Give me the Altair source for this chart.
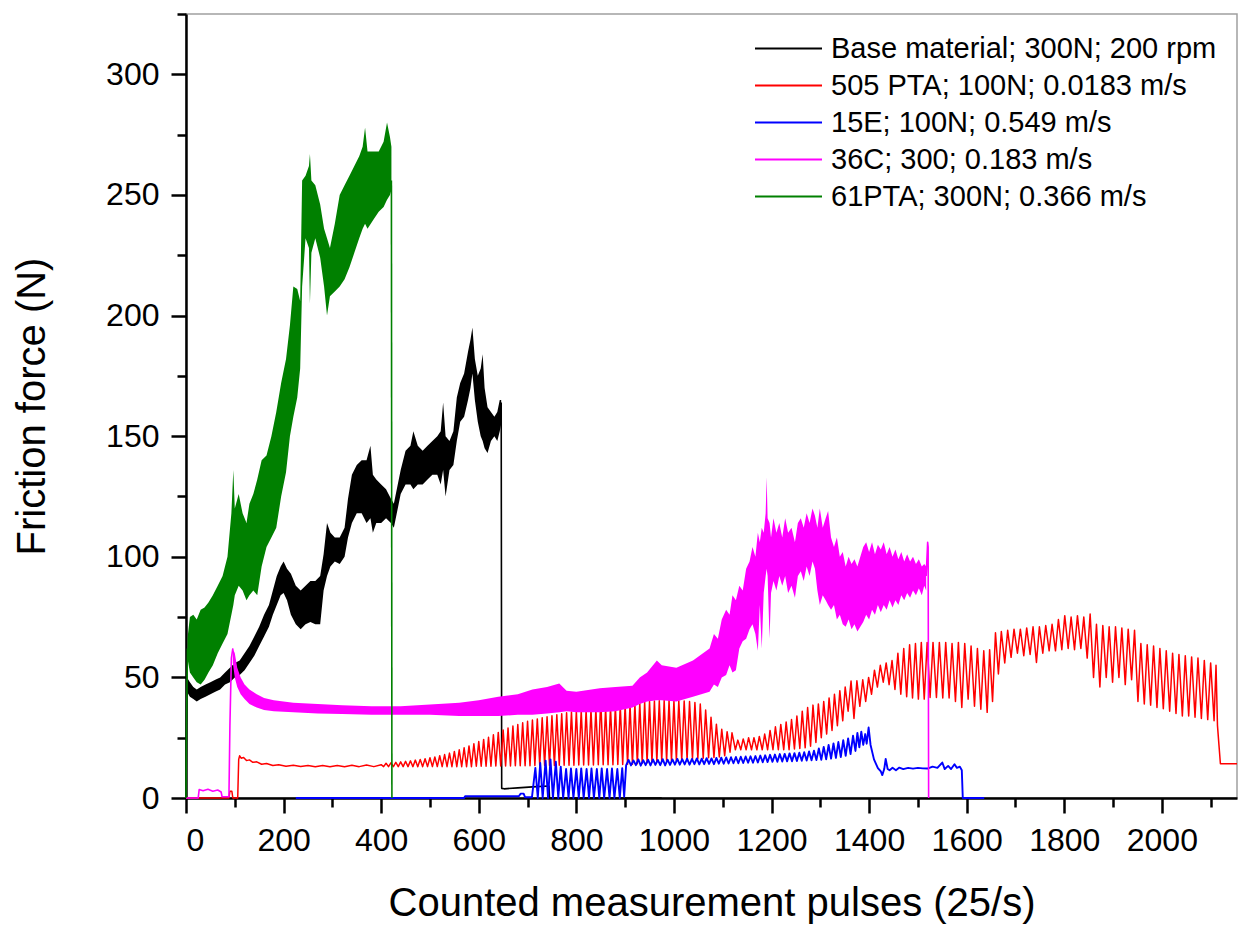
import pandas as pd
import altair as alt

# legend entries and colours, in legend order
series_names = [
    "Base material; 300N; 200 rpm",
    "505 PTA; 100N; 0.0183 m/s",
    "15E; 100N; 0.549 m/s",
    "36C; 300; 0.183 m/s",
    "61PTA; 300N; 0.366 m/s",
]
series_colors = ["#000000", "#ff0000", "#0000ff", "#ff00ff", "#008000"]

x_ticks = [0, 100, 200, 300, 400, 500, 600, 700, 800, 900, 1000, 1100, 1200, 1300,
           1400, 1500, 1600, 1700, 1800, 1900, 2000, 2100]
y_ticks = [0, 25, 50, 75, 100, 125, 150, 175, 200, 225, 250, 275, 300, 325]

# ---- Base material (black): noisy band + start / drop segments
base_band_x = [2, 8, 15, 22, 30, 40, 50, 60, 70, 80, 90, 100, 110, 120, 130, 140, 150, 160, 170, 178,
               186, 194, 200, 207, 215, 225, 235, 245, 255, 265, 275, 282, 289, 296, 305, 315, 325, 332,
               340, 350, 360, 370, 378, 383, 390, 400, 410, 420, 426, 432, 440, 450, 460, 466, 475, 485,
               495, 505, 515, 522, 527, 532, 540, 548, 555, 562, 570, 578, 583, 587, 592, 598, 604, 608,
               612, 618, 625, 632, 638, 643, 646]
base_band_lo = [44, 42, 41, 40, 41, 42, 43, 44, 45, 47, 48, 50, 51, 53, 56, 59, 63, 67, 71, 76,
                80, 84, 85, 82, 76, 72, 70, 72, 73, 72, 72, 86, 92, 96, 98, 97, 100, 108,
                114, 118, 118, 114, 116, 110, 114, 114, 116, 114, 112, 118, 126, 130, 130, 128, 130, 130,
                132, 134, 134, 130, 136, 125, 136, 138, 148, 156, 158, 165, 170, 176, 165, 156, 150, 148,
                145, 143, 148, 150, 148, 152, 155]
base_band_hi = [50, 48, 46, 45, 46, 47, 48, 49, 50, 52, 54, 56, 57, 60, 63, 67, 71, 76, 80, 86,
                92, 96, 98, 95, 93, 88, 86, 88, 90, 90, 92, 101, 114, 110, 108, 108, 112, 124,
                134, 138, 140, 140, 146, 134, 132, 130, 128, 124, 122, 128, 136, 144, 146, 152, 146, 144,
                146, 148, 150, 152, 164, 150, 148, 152, 166, 172, 176, 185, 190, 195, 182, 175, 178, 184,
                170, 162, 160, 158, 160, 165, 165]
base_rise_x = [0, 1, 2]
base_rise_y = [0, 30, 47]
base_tail_x = [646, 647, 652, 680, 710, 744, 745, 975]
base_tail_y = [164, 4, 3.8, 4.2, 4.6, 5, 0, 0]

# ---- 505 PTA (red): oscillating trace
red_x_a = [0, 88, 90, 94, 96, 106, 108, 110, 113, 118, 124, 130, 137, 145, 155, 165, 178, 190, 205, 220,
           235, 250, 265, 280, 295, 310, 325, 340, 355, 370, 385, 400]
red_y_a = [0, 0, 2.8, 2.8, 0, 0, 16, 17.5, 16.5, 16.8, 15.5, 15.8, 14.8, 15, 14, 14.3, 13.5, 13.8, 13.2, 13.6,
           13.1, 13.5, 13, 13.5, 13, 13.5, 13, 13.6, 13, 13.7, 13, 13.8]
red_x_b = [405, 410, 415, 420, 425, 430, 435, 440, 445, 450, 455, 460, 465, 470, 475, 480, 485, 490, 495, 500,
           505, 510, 515, 520, 525, 530, 535, 540, 545, 550, 555, 560, 565, 570, 575, 580, 585, 590, 595, 600,
           605, 610, 615, 620, 625, 630, 635, 640, 645, 650, 655, 660, 665, 670, 675, 680, 685, 690, 695, 700,
           705, 710, 715, 720, 725, 730, 735, 740, 745, 750, 755, 760, 765, 770, 775, 780, 785, 790, 795, 800,
           805, 810, 815, 820, 825, 830, 835, 840, 845, 850, 855, 860, 865, 870, 875, 880, 885, 890, 895, 900,
           905, 910, 915, 920, 925, 930, 935, 940, 945, 950, 955, 960, 965, 970, 975, 980, 985, 990, 995, 1000,
           1005, 1010]
red_y_b = [13, 14.4, 13, 14.6, 13, 14.8, 13, 15, 13, 15.2, 13, 15.4, 13, 15.7, 13, 16, 13, 16.3, 13, 16.7,
           13, 17, 13, 17.5, 13, 18, 13, 18.6, 13, 19.3, 13, 20, 13, 20.8, 13, 21.6, 13, 22.5, 13.2, 23.4,
           13.2, 24.3, 13.2, 25.2, 13.2, 26.2, 13.3, 27.2, 13.3, 28.2, 13.3, 29, 13.3, 29.8, 13.4, 30.5, 13.4, 31.2, 13.4, 31.8,
           13.4, 32.3, 13.5, 32.8, 13.5, 33.3, 13.5, 33.7, 13.5, 34.1, 13.5, 34.5, 13.6, 34.9, 13.6, 35.3, 13.6, 35.6, 13.6, 35.9,
           13.7, 36.2, 13.7, 36.5, 13.7, 36.8, 13.7, 37, 13.8, 41, 13.8, 37.4, 13.8, 37.7, 13.8, 38, 13.9, 38.3, 13.9, 38.6,
           14, 38.9, 14, 39.2, 14.2, 39.5, 14.4, 39.8, 14.6, 40, 14.8, 40.2, 15, 40.3, 15.2, 40.4, 15.4, 40.5, 15.5, 40.4,
           15.6, 40.3]
red_x_c = [1016, 1021, 1027, 1032, 1038, 1043, 1049, 1054, 1060, 1065, 1071, 1076, 1082, 1087, 1093, 1098,
           1104, 1109, 1115, 1119]
red_y_c = [15.8, 40.2, 16, 40, 16.2, 39.6, 16.4, 39, 16.5, 36.5, 16.7, 33.5, 16.8, 30.6, 17, 28.5,
           17.5, 27.5, 19, 27]
red_x_d = [1126, 1131, 1137, 1142, 1148, 1153, 1159, 1164, 1170, 1175, 1181, 1186, 1192, 1197, 1203, 1208,
           1214, 1219, 1225, 1230, 1236, 1241, 1247, 1252, 1258, 1263, 1269, 1274, 1280, 1285, 1291, 1296,
           1302, 1307, 1313, 1318, 1324, 1329, 1335, 1340, 1346, 1351]
red_y_d = [20, 24, 20, 24.5, 20, 25, 20, 25, 20, 25.5, 20, 26.5, 20, 28, 20, 29.5,
           20, 30.5, 20, 31.5, 20, 32.5, 20.3, 34, 20.5, 36, 20.8, 37.5, 21.5, 38.5, 23, 39,
           25, 40, 26.5, 41.5, 28, 43, 30, 44.5, 32, 46]
red_x_e = [1357, 1363, 1369, 1375, 1381, 1387, 1393, 1399, 1405, 1411, 1417, 1423, 1429, 1435,
           1441, 1447, 1453, 1459, 1465, 1471, 1477, 1483, 1489, 1495, 1501, 1507, 1513, 1519]
red_y_e = [36, 48.5, 33, 48.6, 38, 49, 40, 50, 43, 53, 46, 55, 48, 56,
           47, 57, 45, 60, 43, 62, 42, 63.5, 41.5, 64, 41, 64.5, 41, 64.5]
red_x_f = [1525, 1531, 1538, 1544, 1551, 1557, 1564, 1570, 1577, 1583, 1590, 1596, 1603, 1609, 1616, 1622,
           1629, 1635, 1642, 1647, 1653,
           1659, 1665, 1671, 1678, 1684, 1691, 1697, 1704, 1710, 1717, 1723, 1730, 1736, 1743, 1749,
           1756, 1762, 1769, 1775, 1782, 1788, 1795, 1801, 1808, 1814, 1821, 1827, 1834, 1840, 1847,
           1853, 1860, 1866, 1873, 1879, 1886, 1892, 1899, 1905, 1912, 1918, 1925, 1931, 1938, 1944,
           1951, 1957, 1964, 1970, 1977, 1983, 1990, 1996, 2003, 2009, 2016, 2022, 2029, 2035, 2042,
           2048, 2055, 2061, 2068, 2074, 2081, 2087, 2094, 2100, 2107, 2111, 2114, 2117, 2120, 2154]
red_y_f = [41.7, 64.5, 41.7, 64.5, 41.5, 64.5, 41.5, 64, 40, 64.5, 37.5, 64, 41, 63, 38, 62,
           36.8, 61, 35.5, 61.5, 40,
           68.5, 51.4, 69, 56, 69.5, 58.3, 70, 60, 70, 59, 70.5, 59.5, 71, 56.2, 71,
           60, 71.5, 61, 72, 61, 74, 61.5, 75.6, 62, 75, 61.5, 75.6, 62, 75, 58,
           76.3, 50, 72, 46, 71.5, 50, 71, 48, 71, 50, 70.5, 47, 70, 49, 69.5,
           40, 64, 39, 63.5, 38.5, 63, 37.5, 62, 37, 61, 36, 60, 35, 59.5, 34,
           59, 34, 58.5, 33.5, 58, 33, 57, 32.5, 56, 32, 55, 30, 22, 14.2, 14.2]

# ---- 15E (blue)
blue_x_a = [225, 570, 572, 682, 686, 692, 695, 709]
blue_y_a = [0, 0, 0.7, 0.7, 1.8, 1.8, 0.3, 0.3]
blue_x_b = [716, 721, 726, 731, 737, 742, 747, 752, 758, 763, 768, 773, 779, 784, 789, 794, 800, 805,
            810, 815, 821, 826, 831, 836, 842, 847, 852, 857, 863, 868, 873, 878, 884, 889, 894, 898, 902]
blue_y_b = [12.5, 0, 14.5, 0, 15.5, 0, 16, 0, 15, 0, 13, 0, 12, 0, 12.2, 0, 12, 0,
            12.3, 0, 12, 0, 12.2, 0, 12, 0, 12.3, 0, 12, 0, 12.2, 0, 12, 0, 12.4, 0.5, 13.5]
blue_x_c = [907, 912, 917, 922, 927, 932, 937, 942, 947, 952, 957, 962, 967, 972, 977, 982, 987, 992, 997, 1002,
            1007, 1012, 1017, 1022, 1027, 1032, 1037, 1042, 1047, 1052, 1057, 1062, 1067, 1072, 1077, 1082, 1087, 1092, 1097, 1102,
            1107, 1112, 1117, 1122, 1127, 1132, 1137, 1142, 1147, 1152, 1157, 1162, 1167, 1172, 1177, 1182, 1187, 1192, 1197, 1202,
            1207, 1212, 1217, 1222, 1227, 1232, 1237, 1242, 1247, 1252, 1257, 1262, 1267, 1272, 1277, 1282, 1287, 1292]
blue_y_c = [15.8, 13.5, 15.6, 13.6, 16, 13.4, 15.7, 13.6, 15.9, 13.5, 16, 13.7, 15.8, 13.6, 16.1, 13.5, 15.9, 13.7, 16, 13.8,
            16.2, 13.8, 16.1, 13.9, 16.3, 13.8, 16.2, 14, 16.4, 13.9, 16.3, 14, 16.5, 14.1, 16.4, 14, 16.6, 14.2, 16.7, 14.2,
            16.8, 14.3, 16.9, 14.4, 17, 14.4, 17.1, 14.5, 17.2, 14.6, 17.3, 14.6, 17.4, 14.7, 17.6, 14.8, 17.7, 14.9, 17.9, 15,
            18, 15, 18.2, 15.1, 18.3, 15.2, 18.5, 15.2, 18.6, 15.3, 18.8, 15.4, 19, 15.5, 19.3, 15.6, 19.6, 15.7]
blue_x_d = [1297, 1302, 1307, 1312, 1317, 1322, 1327, 1332, 1337, 1342, 1347, 1352, 1357, 1362, 1367, 1372,
            1376, 1380, 1384, 1388, 1392, 1395, 1399]
blue_y_d = [20.5, 15.8, 21.2, 16, 22, 16.3, 22.6, 16.6, 23.2, 17, 24, 17.5, 24.7, 18.2, 25.8, 19.5,
            27, 21, 27.5, 22, 26.5, 22.5, 29.2]
blue_x_e = [1403, 1410, 1418, 1424, 1427, 1431, 1434, 1438, 1442, 1448, 1455, 1462, 1470, 1480, 1490,
            1500, 1510, 1520, 1530, 1540, 1550, 1555, 1562, 1568, 1575, 1580, 1586, 1590, 1592, 1636]
blue_y_e = [22, 16, 12.4, 11, 9.5, 12, 16.2, 12, 11.5, 12.5, 11.5, 12.6, 12, 12.5, 12.2,
            12.5, 12.3, 12.2, 13, 12.5, 14.7, 12, 13.3, 12, 14, 12.5, 13, 11.5, 0, 0]

# ---- 36C (magenta): band + start / drop segments
mag_band_x = [96, 100, 105, 112, 120, 130, 145, 160, 180, 220, 270, 320, 380, 440, 500, 560, 600, 640, 680, 710,
              740, 765, 780, 800, 848, 880, 915, 930, 945, 965, 975, 1005, 1039,
              1073, 1082, 1090, 1098, 1107, 1114, 1120, 1127, 1134, 1141, 1148, 1155, 1161, 1167, 1172,
              1176, 1180, 1184, 1188, 1190, 1192, 1196, 1199, 1204, 1210, 1216, 1222, 1228, 1234, 1241,
              1248, 1254, 1260, 1266, 1272, 1278, 1284, 1289, 1294, 1299, 1305, 1311, 1316, 1322, 1328,
              1334, 1340, 1346, 1352, 1358, 1364, 1370, 1376, 1382, 1388, 1394, 1400, 1406, 1412, 1418,
              1424, 1430, 1436, 1442, 1448, 1454, 1460, 1466, 1472, 1478, 1484, 1490, 1496, 1502, 1508,
              1513, 1517]
mag_band_lo = [56, 50, 46, 43, 41, 39, 37.5, 36.5, 36, 35.5, 35, 34.8, 34.5, 34.5, 34.5, 34, 34, 34, 34.5, 34.5,
               35, 35.5, 36, 35.5, 35.5, 36, 37.5, 39, 40, 40.5, 40.5, 40, 42,
               44, 47, 46, 50, 51, 55, 52, 53, 62, 65, 66, 70, 72, 68, 61,
               80, 62, 85, 92, 95, 92, 66, 85, 90, 86, 92, 88, 92, 85, 88,
               83, 92, 94, 90, 96, 92, 98, 95, 86, 80, 84, 82, 80, 78, 80,
               74, 76, 72, 71, 74, 70, 72, 69, 71, 73, 76, 74, 78, 76, 80,
               77, 80, 78, 82, 79, 82, 80, 84, 82, 85, 83, 86, 84, 87, 84,
               88, 86]
mag_band_hi = [62, 60, 54, 50, 47, 45, 43, 41.5, 40.5, 39.5, 39, 38.5, 38, 38, 38.8, 39.5, 40.5, 42, 43, 45,
               46, 47.5, 44.5, 44, 45.5, 46, 46.5, 50, 52, 57, 55, 54, 57,
               62, 68, 66, 74, 78, 76, 84, 82, 88, 86, 95, 98, 104, 100, 110,
               106, 112, 110, 118, 133, 116, 114, 108, 116, 110, 114, 108, 116, 110, 112,
               106, 114, 116, 112, 118, 114, 120, 117, 112, 120, 112, 116, 119, 108, 104,
               108, 100, 102, 96, 100, 97, 99, 96, 100, 104, 106, 102, 106, 101, 105,
               103, 106, 101, 104, 100, 103, 99, 102, 98, 101, 98, 100, 97, 99, 96,
               97, 96]
mag_start_x = [0, 25, 27, 35, 45, 55, 65, 72, 74, 88, 90, 93, 96]
mag_start_y = [0, 0, 3.5, 3, 3.6, 2.8, 3.3, 2.5, 0.5, 0.5, 30, 58, 62]
mag_end_x = [1517, 1520, 1521, 1522]
mag_end_y = [92, 106, 104, 0]

# ---- 61PTA (green): band + start / drop segments
green_band_x = [3, 8, 15, 22, 30, 38, 46, 55, 65, 75, 85, 93, 97, 100, 108, 116, 124, 130, 138, 146,
                155, 165, 175, 185, 195, 205, 213, 220, 228, 234, 238, 245, 252, 254, 257, 265, 275, 283,
                289, 295, 305, 315, 325, 335, 345, 355, 362, 367, 372, 385, 395, 405, 412, 418, 421]
green_band_lo = [58, 52, 50, 48, 47, 49, 52, 55, 60, 64, 68, 76, 80, 84, 88, 86, 82, 84, 86, 84,
                 96, 104, 108, 112, 125, 135, 150, 158, 166, 178, 212, 232, 228, 205, 226, 232, 224, 212,
                 200, 208, 210, 212, 215, 220, 226, 232, 236, 238, 236, 240, 243, 245, 248, 250, 252]
green_band_hi = [66, 75, 76, 74, 78, 79, 81, 84, 88, 92, 100, 118, 136, 120, 126, 118, 114, 122, 126, 132,
                 140, 142, 150, 160, 172, 182, 196, 212, 211, 206, 256, 258, 262, 267, 256, 254, 246, 236,
                 232, 228, 238, 250, 254, 258, 262, 266, 270, 278, 268, 268, 268, 272, 280, 274, 270]
green_rise_x = [0, 1, 3]
green_rise_y = [0, 30, 62]
green_drop_x = [421, 422]
green_drop_y = [256, 0]


def line_df(name, parts):
    frames = []
    for i, (xs, ys) in enumerate(parts):
        frames.append(pd.DataFrame({"x": xs, "y": ys, "seg": i, "series": name}))
    return pd.concat(frames, ignore_index=True)


def band_df(xs, lo, hi):
    return pd.DataFrame({"x": xs, "lo": lo, "hi": hi})


FONT = "Liberation Sans"

x_scale = alt.Scale(domain=[0, 2154], nice=False, zero=False)
y_scale = alt.Scale(domain=[0, 325], nice=False, zero=False)

x_axis = alt.Axis(
    values=x_ticks, format="d",
    labelExpr="datum.value % 200 === 0 ? datum.label : ''",
    title="Counted measurement pulses (25/s)",
    grid=False, domainColor="black", domainWidth=2.5,
    tickColor="black", tickWidth=2.5,
    tickSize={"condition": {"test": "datum.value % 200 === 0", "value": 15}, "value": 9},
    labelFont=FONT, labelFontSize=32, labelColor="black", labelPadding=12,
    titleFont=FONT, titleFontSize=40, titleFontWeight="normal", titleColor="black",
    titleBaseline="alphabetic", titleY=117,
)
y_axis = alt.Axis(
    values=y_ticks, format="d",
    labelExpr="datum.value % 50 === 0 ? datum.label : ''",
    title="Friction force (N)",
    grid=False, domainColor="black", domainWidth=2.5,
    tickColor="black", tickWidth=2.5,
    tickSize={"condition": {"test": "datum.value % 50 === 0", "value": 15}, "value": 9},
    labelFont=FONT, labelFontSize=32, labelColor="black", labelPadding=12,
    titleFont=FONT, titleFontSize=40, titleFontWeight="normal", titleColor="black",
    titleBaseline="alphabetic", titleX=-142,
)

color_enc = alt.Color(
    "series:N",
    scale=alt.Scale(domain=series_names, range=series_colors),
    legend=alt.Legend(
        title=None, orient="top-right", offset=20, padding=0,
        symbolType="stroke", symbolSize=4489, symbolStrokeWidth=2, clipHeight=29,
        rowPadding=7, labelFont=FONT, labelFontSize=29, labelColor="black",
        labelOffset=8, labelLimit=0,
    ),
)


def band_layer(df, color):
    return alt.Chart(df).mark_area(color=color, opacity=1, strokeWidth=0).encode(
        x=alt.X("x:Q", scale=x_scale, axis=x_axis),
        y=alt.Y("lo:Q", scale=y_scale, axis=y_axis),
        y2="hi:Q",
    )


def line_layer(df, width):
    return alt.Chart(df).mark_line(strokeWidth=width, strokeJoin="round").encode(
        x=alt.X("x:Q", scale=x_scale, axis=x_axis),
        y=alt.Y("y:Q", scale=y_scale, axis=y_axis),
        color=color_enc,
        detail="seg:N",
    )


base_line = line_df(series_names[0], [(base_rise_x, base_rise_y), (base_tail_x, base_tail_y)])
red_line = line_df(series_names[1], [(red_x_a + red_x_b + red_x_c + red_x_d + red_x_e + red_x_f,
                                      red_y_a + red_y_b + red_y_c + red_y_d + red_y_e + red_y_f)])
blue_line = line_df(series_names[2], [(blue_x_a + blue_x_b + blue_x_c + blue_x_d + blue_x_e,
                                       blue_y_a + blue_y_b + blue_y_c + blue_y_d + blue_y_e)])
mag_line = line_df(series_names[3], [(mag_start_x, mag_start_y), (mag_end_x, mag_end_y)])
green_line = line_df(series_names[4], [(green_rise_x, green_rise_y), (green_drop_x, green_drop_y)])

chart = alt.layer(
    band_layer(band_df(base_band_x, base_band_lo, base_band_hi), series_colors[0]),
    line_layer(base_line, 1.6),
    line_layer(red_line, 1.5),
    line_layer(blue_line, 1.9),
    band_layer(band_df(mag_band_x, mag_band_lo, mag_band_hi), series_colors[3]),
    line_layer(mag_line, 1.6),
    band_layer(band_df(green_band_x, green_band_lo, green_band_hi), series_colors[4]),
    line_layer(green_line, 1.6),
).properties(
    width=1051, height=784,
    autosize=alt.AutoSizeParams(type="none"),
    padding={"left": 178, "top": 6, "right": 6, "bottom": 127},
).configure_view(stroke="#a0a0a0", strokeWidth=1.5)

chart.save("out.html", embed_options={"renderer": "svg", "actions": False})
